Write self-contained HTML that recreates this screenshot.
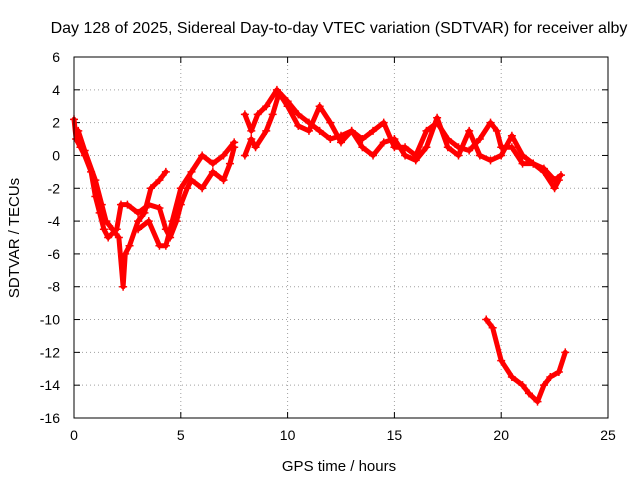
<!DOCTYPE html>
<html><head><meta charset="utf-8"><style>
body{margin:0;background:#fff;}
svg{display:block;font-family:"Liberation Sans",sans-serif;}
</style></head><body>
<svg id="chart" width="640" height="480">
<text x="339" y="33" font-size="16" text-anchor="middle">Day 128 of 2025, Sidereal Day-to-day VTEC variation (SDTVAR) for receiver alby</text>
<text x="339" y="471" font-size="15" text-anchor="middle">GPS time / hours</text>
<text transform="translate(19,238) rotate(-90)" font-size="15" text-anchor="middle">SDTVAR / TECUs</text>
<g id="grid"></g><g id="ticks"></g><g id="series"></g>
<rect x="74" y="57" width="534" height="361" fill="none" stroke="#000" stroke-width="1"/>
</svg>
<script>
const xTicks=[0,5,10,15,20,25];
const yTicks=[6,4,2,0,-2,-4,-6,-8,-10,-12,-14,-16];
const seriesA=[[0,2.2],[0.1,1],[0.3,0.5],[0.5,0],[0.8,-1],[1,-2.5],[1.2,-3.5],[1.4,-4.5],[1.6,-5],[2,-4.5],[2.2,-3],[2.5,-3],[3,-3.5],[3.5,-3],[4,-3.2],[4.3,-4.5],[4.5,-5],[4.8,-4],[5,-3],[5.3,-2],[5.5,-1.5],[6,-2],[6.5,-1],[7,-1.5],[7.3,-0.5],[7.5,0.5]];
const seriesB=[[0.2,1.5],[0.5,0.3],[1,-1.5],[1.3,-3],[1.5,-4],[1.8,-4.5],[2.1,-5],[2.3,-8],[2.4,-6],[2.6,-5.5],[3,-4],[3.3,-3.5],[3.6,-2],[4,-1.5],[4.3,-1]];
const seriesC=[[3,-4.5],[3.5,-4],[4,-5.5],[4.3,-5.5],[4.6,-4],[5,-2],[5.5,-1],[6,0],[6.5,-0.5],[7,0],[7.5,0.8]];
const seriesD=[[8,2.5],[8.3,1.5],[8.6,2.5],[9,3],[9.5,4],[10,3.3],[10.5,2.5],[11,2],[11.5,1.5],[12,1],[12.5,1.2],[13,1.5],[13.5,1],[14,1.5],[14.5,2],[15,0.5],[15.5,0.5],[16,0],[16.5,1.5],[17,2],[17.5,1],[18,0.5],[18.5,0.3],[19,1],[19.5,2],[19.8,1.5],[20,0.5],[20.5,0.5],[21,-0.5],[21.5,-0.5],[22,-0.8],[22.5,-1.5],[22.8,-1.2]];
const seriesE=[[8,0],[8.3,1],[8.5,0.5],[9,1.5],[9.3,2.5],[9.6,3.8],[10,3],[10.5,1.8],[11,1.5],[11.5,3],[12,2],[12.5,0.8],[13,1.5],[13.5,0.5],[14,0],[14.5,0.8],[15,1],[15.5,0],[16,-0.3],[16.5,0.5],[17,2.3],[17.5,0.5],[18,0],[18.5,1.5],[19,0],[19.5,-0.3],[20,0],[20.5,1.2],[21,0],[21.5,-0.5],[22,-1],[22.5,-2],[22.7,-1.5]];
const seriesF=[[19.3,-10],[19.6,-10.5],[20,-12.5],[20.5,-13.5],[21,-14],[21.3,-14.5],[21.7,-15],[22,-14],[22.3,-13.5],[22.7,-13.2],[23,-12]];
const allSeries=[seriesA,seriesB,seriesC,seriesD,seriesE,seriesF];
const L=74,R=608,T=57,B=418;
const sx=v=>L+(v-0)/25*(R-L);
const sy=v=>T+(6-v)/22*(B-T);
const NS="http://www.w3.org/2000/svg";
const mk=(t,a,p)=>{const e=document.createElementNS(NS,t);for(const k in a)e.setAttribute(k,a[k]);p.appendChild(e);return e;};
const g=document.getElementById('grid'),tk=document.getElementById('ticks'),se=document.getElementById('series');
xTicks.forEach(v=>{const x=sx(v);
 if(v>0&&v<25){const l=mk('line',{x1:x,x2:x,y1:T,y2:B,stroke:'#a0a0a0','stroke-dasharray':'1,3'},g);
 
 }
 mk('line',{x1:x,x2:x,y1:B,y2:B-6,stroke:'#000'},tk);mk('line',{x1:x,x2:x,y1:T,y2:T+6,stroke:'#000'},tk);
 const t=mk('text',{x:x,y:B+22,'font-size':14,'text-anchor':'middle'},tk);t.textContent=v;
 
 });
yTicks.forEach(v=>{const y=sy(v);
 if(v<6&&v>-16){const l=mk('line',{x1:L,x2:R,y1:y,y2:y,stroke:'#a0a0a0','stroke-dasharray':'1,3'},g);
 
 }
 mk('line',{x1:L,x2:L+6,y1:y,y2:y,stroke:'#000'},tk);mk('line',{x1:R,x2:R-6,y1:y,y2:y,stroke:'#000'},tk);
 const t=mk('text',{x:L-14,y:y+5,'font-size':14,'text-anchor':'end'},tk);t.textContent=v;
 
 });
allSeries.forEach((s,i)=>{
 const p=mk('polyline',{points:s.map(d=>sx(d[0])+','+sy(d[1])).join(' '),fill:'none',stroke:'#ff0000','stroke-width':5,'stroke-linejoin':'round','stroke-linecap':'round'},se);
 
 
 s.forEach(d=>{const x=sx(d[0]),y=sy(d[1]);
  const m=mk('path',{d:`M${x-4},${y}H${x+4}M${x},${y-4}V${y+4}`,stroke:'#ff0000','stroke-width':1.5},se);
  
  });
});
</script>
</body></html>
